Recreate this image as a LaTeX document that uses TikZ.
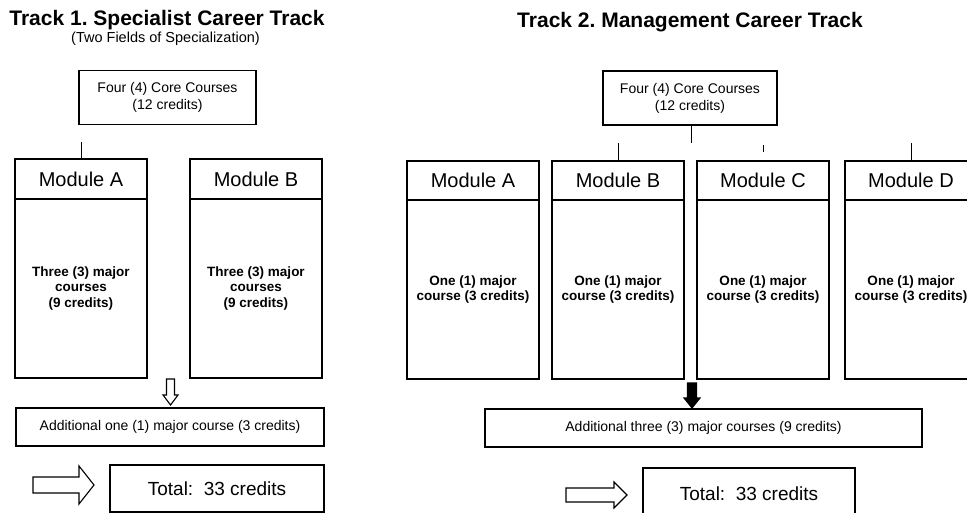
\documentclass[tikz,border=0pt]{standalone}
\usepackage{fontspec}
\setmainfont{Liberation Sans}
\frenchspacing
\begin{document}
\begin{tikzpicture}[x=1pt,y=-1pt,
  lw/.style={line width=1.1pt},
  ttl/.style={inner sep=0pt,font=\bfseries\fontsize{21}{25}\selectfont},
  subttl/.style={inner sep=0pt,font=\fontsize{14.5}{17}\selectfont},
  corebox/.style={draw,lw,inner sep=0pt,align=center,minimum height=54pt,font=\fontsize{14}{17}\selectfont},
  modhead/.style={draw,lw,inner sep=0pt,minimum width=132pt,minimum height=40pt,font=\fontsize{20}{24}\selectfont},
  modbody/.style={draw,lw,inner sep=0pt,align=center,minimum width=132pt,minimum height=179pt,font=\bfseries\fontsize{13.5}{15.5}\selectfont},
  addbox/.style={draw,lw,inner sep=0pt,minimum height=38pt,font=\fontsize{14}{17}\selectfont},
  totbox/.style={draw,lw,inner sep=0pt,font=\fontsize{19}{23}\selectfont},
  hollowarrow/.style={draw,lw,fill=white,line join=miter},
  solidarrow/.style={draw,lw,fill=black,line join=miter},
  conn/.style={line width=1pt}
]
\useasboundingbox (0,0) rectangle (967,513);
\fill[white] (0,0) rectangle (967,513);

% ---------------- Track 1 ----------------
\node[ttl] (t1) at (167,20.5) {Track 1. Specialist Career Track};
\node[subttl] (t1s) at (165.5,38.5) {(Two Fields of Specialization)};
\node[corebox,minimum width=177pt] (lcore) at (167.5,97.5) {Four (4) Core Courses\\(12 credits)};

\node[modhead] (lAh) at (81,179) {Module A};
\node[modbody] (lAb) at (81,288.5) {Three (3) major\\courses\\(9 credits)};
\node[modhead] (lBh) at (256,179) {Module B};
\node[modbody] (lBb) at (256,288.5) {Three (3) major\\courses\\(9 credits)};

\coordinate (ltA) at (81,142);
\draw[conn] (ltA) -- (lAh.north);

\node[addbox,minimum width=308pt] (ladd) at (170,427) {Additional one (1) major course (3 credits)};
\node[totbox,minimum width=214pt,minimum height=47pt] (ltot) at (217,488.5) {Total:\ \ 33 credits};

\draw[hollowarrow] (166.5,379) -- (174.5,379) -- (174.5,395) -- (178,395) -- (170.5,405) -- (163,395) -- (166.5,395) -- cycle;
\draw[hollowarrow] (33,477) -- (79,477) -- (79,466) -- (94,485) -- (79,504) -- (79,493) -- (33,493) -- cycle;

% ---------------- Track 2 ----------------
\node[ttl] (t2) at (690,22.5) {Track 2. Management Career Track};
\node[corebox,minimum width=174pt] (rcore) at (690,98) {Four (4) Core Courses\\(12 credits)};

\node[modhead,minimum height=39pt] (rAh) at (473,180.5) {Module A};
\node[modbody] (rAb) at (473,289.5) {One (1) major\\course (3 credits)};
\node[modhead,minimum height=39pt] (rBh) at (618,180.5) {Module B};
\node[modbody] (rBb) at (618,289.5) {One (1) major\\course (3 credits)};
\node[modhead,minimum height=39pt] (rCh) at (763,180.5) {Module C};
\node[modbody] (rCb) at (763,289.5) {One (1) major\\course (3 credits)};
\node[modhead,minimum height=39pt] (rDh) at (911,180.5) {Module D};
\node[modbody] (rDb) at (911,289.5) {One (1) major\\course (3 credits)};

\coordinate (rj) at (691,143);
\draw[conn] (rj |- rcore.south) -- (rj);
\coordinate (rtB) at (618,143);
\draw[conn] (rtB) -- (rBh.north);
\coordinate (rtC1) at (763,145);
\coordinate (rtC2) at (763,152);
\draw[conn] (rtC1) -- (rtC2);
\coordinate (rtD) at (911,143);
\draw[conn] (rtD) -- (rDh.north);

\node[addbox,minimum width=437pt] (radd) at (703.5,428) {Additional three (3) major courses (9 credits)};
\node[totbox,minimum width=212pt,minimum height=52pt] (rtot) at (749,494) {Total:\ \ 33 credits};

\draw[solidarrow] (687.5,383) -- (696.5,383) -- (696.5,398) -- (700,398) -- (692,408) -- (684,398) -- (687.5,398) -- cycle;
\draw[hollowarrow] (566,488) -- (614,488) -- (614,482) -- (627,495) -- (614,508) -- (614,502) -- (566,502) -- cycle;
\end{tikzpicture}
\end{document}
